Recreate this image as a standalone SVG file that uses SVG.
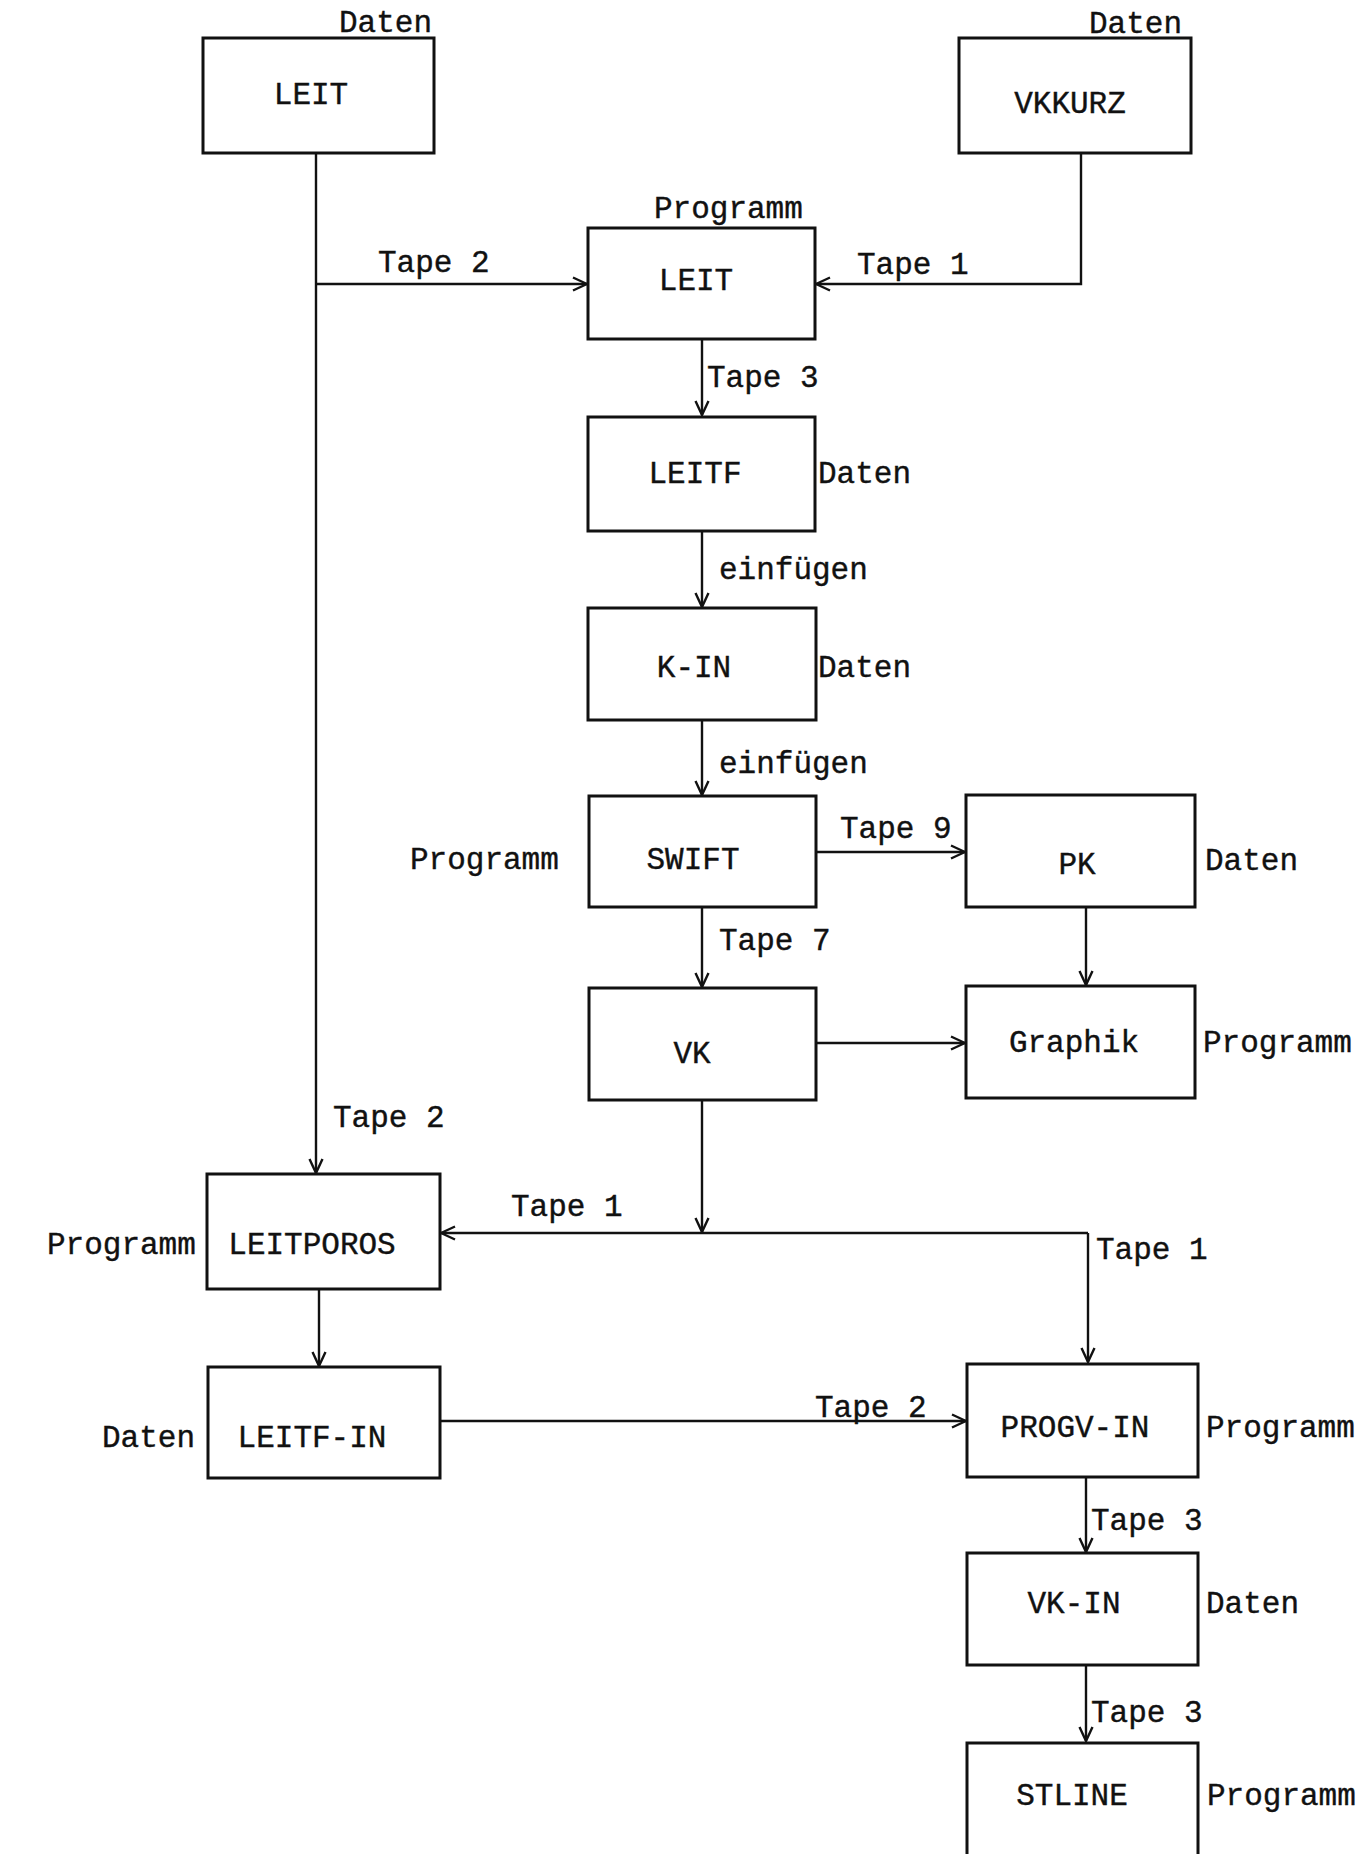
<svg xmlns="http://www.w3.org/2000/svg" width="1367" height="1854" viewBox="0 0 1367 1854">
<style>
.box{fill:none;stroke:#111;stroke-width:3}
.t{font-family:"Liberation Mono","Courier New",monospace;font-size:31px;fill:#111;stroke:#111;stroke-width:0.4}
.c{text-anchor:middle}
.ln{fill:none;stroke:#111;stroke-width:2.4}
</style>
<defs>
<marker id="ah" viewBox="0 0 16 16" refX="15" refY="8" markerWidth="16" markerHeight="16" markerUnits="userSpaceOnUse" orient="auto">
<path d="M1,1.5 L15,8 L1,14.5" fill="none" stroke="#111" stroke-width="2.4"/>
</marker>
</defs>
<rect width="1367" height="1854" fill="#fff"/>

<g id="connectors">
<path class="ln" d="M316,153 V1173" marker-end="url(#ah)"/>
<path class="ln" d="M316,284 H587" marker-end="url(#ah)"/>
<path class="ln" d="M1081,153 V284 H816" marker-end="url(#ah)"/>
<path class="ln" d="M702,339 V415" marker-end="url(#ah)"/>
<path class="ln" d="M702,531 V607" marker-end="url(#ah)"/>
<path class="ln" d="M702,720 V795" marker-end="url(#ah)"/>
<path class="ln" d="M816,852 H965" marker-end="url(#ah)"/>
<path class="ln" d="M702,907 V987" marker-end="url(#ah)"/>
<path class="ln" d="M1086,908 V985" marker-end="url(#ah)"/>
<path class="ln" d="M816,1043 H965" marker-end="url(#ah)"/>
<path class="ln" d="M702,1100 V1232" marker-end="url(#ah)"/>
<path class="ln" d="M1088,1233 H441" marker-end="url(#ah)"/>
<path class="ln" d="M1088,1233 V1362" marker-end="url(#ah)"/>
<path class="ln" d="M319,1289 V1366" marker-end="url(#ah)"/>
<path class="ln" d="M440,1421 H966" marker-end="url(#ah)"/>
<path class="ln" d="M1086,1477 V1552" marker-end="url(#ah)"/>
<path class="ln" d="M1086,1665 V1741" marker-end="url(#ah)"/>
<text class="t" x="378" y="272">Tape 2</text>
<text class="t" x="857" y="274">Tape 1</text>
<text class="t" x="707" y="387">Tape 3</text>
<text class="t" x="719" y="579">einfügen</text>
<text class="t" x="719" y="773">einfügen</text>
<text class="t" x="840" y="838">Tape 9</text>
<text class="t" x="719" y="950">Tape 7</text>
<text class="t" x="333" y="1127">Tape 2</text>
<text class="t" x="511" y="1216">Tape 1</text>
<text class="t" x="1096" y="1259">Tape 1</text>
<text class="t" x="815" y="1417">Tape 2</text>
<text class="t" x="1091" y="1530">Tape 3</text>
<text class="t" x="1091" y="1722">Tape 3</text>
</g>

<g id="leit-daten">
<rect class="box" x="203" y="38" width="231" height="115"/>
<text class="t c" x="311" y="104">LEIT</text>
<text class="t" x="339" y="32">Daten</text>
</g>
<g id="vkkurz">
<rect class="box" x="959" y="38" width="232" height="115"/>
<text class="t c" x="1070" y="113">VKKURZ</text>
<text class="t" x="1089" y="33">Daten</text>
</g>
<g id="leit-programm">
<rect class="box" x="588" y="228" width="227" height="111"/>
<text class="t c" x="696" y="290">LEIT</text>
<text class="t" x="654" y="218">Programm</text>
</g>
<g id="leitf">
<rect class="box" x="588" y="417" width="227" height="114"/>
<text class="t c" x="695" y="483">LEITF</text>
<text class="t" x="818" y="483">Daten</text>
</g>
<g id="k-in">
<rect class="box" x="588" y="608" width="228" height="112"/>
<text class="t c" x="694" y="677">K-IN</text>
<text class="t" x="818" y="677">Daten</text>
</g>
<g id="swift">
<rect class="box" x="589" y="796" width="227" height="111"/>
<text class="t c" x="693" y="869">SWIFT</text>
<text class="t" x="410" y="869">Programm</text>
</g>
<g id="pk">
<rect class="box" x="966" y="795" width="229" height="112"/>
<text class="t c" x="1077" y="874">PK</text>
<text class="t" x="1205" y="870">Daten</text>
</g>
<g id="vk">
<rect class="box" x="589" y="988" width="227" height="112"/>
<text class="t c" x="692" y="1063">VK</text>
</g>
<g id="graphik">
<rect class="box" x="966" y="986" width="229" height="112"/>
<text class="t c" x="1074" y="1052">Graphik</text>
<text class="t" x="1203" y="1052">Programm</text>
</g>
<g id="leitporos">
<rect class="box" x="207" y="1174" width="233" height="115"/>
<text class="t c" x="312" y="1254">LEITPOROS</text>
<text class="t" x="47" y="1254">Programm</text>
</g>
<g id="leitf-in">
<rect class="box" x="208" y="1367" width="232" height="111"/>
<text class="t c" x="312" y="1447">LEITF-IN</text>
<text class="t" x="102" y="1447">Daten</text>
</g>
<g id="progv-in">
<rect class="box" x="967" y="1364" width="231" height="113"/>
<text class="t c" x="1075" y="1437">PROGV-IN</text>
<text class="t" x="1206" y="1437">Programm</text>
</g>
<g id="vk-in">
<rect class="box" x="967" y="1553" width="231" height="112"/>
<text class="t c" x="1074" y="1613">VK-IN</text>
<text class="t" x="1206" y="1613">Daten</text>
</g>
<g id="stline">
<rect class="box" x="967" y="1743" width="231" height="130"/>
<text class="t c" x="1072" y="1805">STLINE</text>
<text class="t" x="1207" y="1805">Programm</text>
</g>
</svg>
